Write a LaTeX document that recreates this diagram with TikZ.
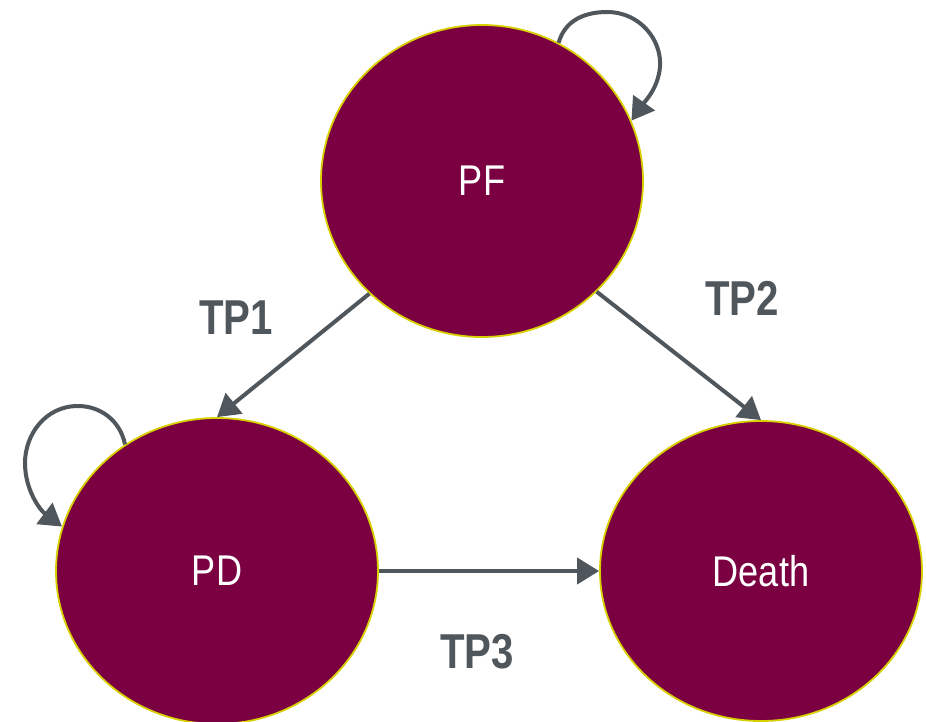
\documentclass[tikz,border=0pt]{standalone}
\usepackage{fontspec}
\setmainfont{Liberation Sans}
\usetikzlibrary{shapes.geometric,arrows.meta}
\definecolor{statefill}{HTML}{7A0041}
\definecolor{stateedge}{HTML}{D6D000}
\definecolor{arrowgray}{HTML}{4F565C}
\tikzset{
  statenode/.style={ellipse, draw=stateedge, line width=1.8pt, fill=statefill, inner sep=0pt,
    text=white, font=\fontsize{43}{43}\selectfont},
  conn/.style={draw=arrowgray, line width=4pt, -{Triangle[length=22pt,width=26pt]}},
  tplabel/.style={text=arrowgray, font=\fontsize{49}{49}\selectfont\bfseries}
}
\begin{document}
\begin{tikzpicture}[x=1pt,y=-1pt]
\useasboundingbox (0,0) rectangle (926,721);
\node[statenode, minimum width=322pt, minimum height=312pt] (PF) at (482,181) {\scalebox{0.84}[1]{PF}};
\node[statenode, minimum width=322pt, minimum height=306pt] (PD) at (217,571) {\scalebox{0.84}[1]{PD}};
\node[statenode, minimum width=322pt, minimum height=300pt] (Death) at (761,571) {\scalebox{0.84}[1]{Death}};
\draw[conn] (PF.225) -- (PD.north);
\draw[conn] (PF.316) -- (Death.north);
\draw[conn] (PD.east) -- (Death.west);
\draw[conn] (PF.61) .. controls (565,20) and (585,12) .. (607,12)
  .. controls (640,12) and (662,40) .. (660,67)
  .. controls (658,88) and (646,100) .. (PF.22);
\draw[conn] (PD.126) .. controls (120,420) and (100,406) .. (78,406)
  .. controls (45,406) and (25,435) .. (25,463)
  .. controls (25,490) and (40,510) .. (PD.164);
\node[tplabel] (tp1) at (236,318) {\scalebox{0.82}[1]{TP1}};
\node[tplabel] (tp2) at (742,298) {\scalebox{0.82}[1]{TP2}};
\node[tplabel] (tp3) at (477,652) {\scalebox{0.82}[1]{TP3}};
\end{tikzpicture}
\end{document}
